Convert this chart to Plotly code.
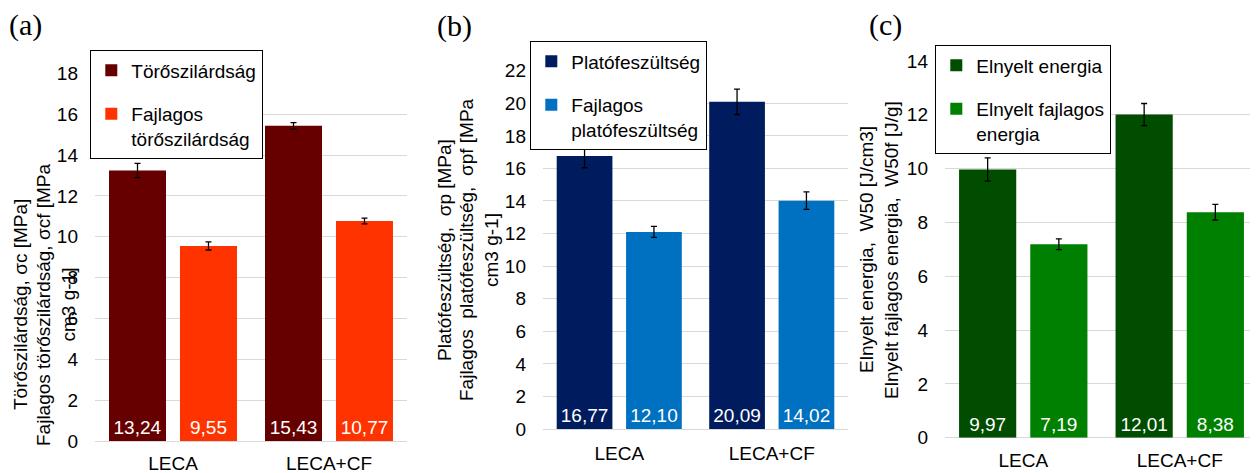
import plotly.graph_objects as go

categories = ["LECA", "LECA+CF"]

# Panel (a)
a_names = ["Törőszilárdság", "Fajlagos<br>törőszilárdság"]
a_main = [13.24, 15.43]
a_main_err = [0.35, 0.16]
a_spec = [9.55, 10.77]
a_spec_err = [0.20, 0.14]
a_colors = ["#660000", "#FF3300"]

# Panel (b)
b_names = ["Platófeszültség", "Fajlagos<br>platófeszültség"]
b_main = [16.77, 20.09]
b_main_err = [0.73, 0.78]
b_spec = [12.10, 14.02]
b_spec_err = [0.34, 0.54]
b_colors = ["#001B5E", "#0070C0"]

# Panel (c)
c_names = ["Elnyelt energia", "Elnyelt fajlagos<br>energia"]
c_main = [9.97, 12.01]
c_main_err = [0.43, 0.41]
c_spec = [7.19, 8.38]
c_spec_err = [0.20, 0.29]
c_colors = ["#004D00", "#008000"]

y_ranges = [[0, 18], [0, 22], [0, 14]]
y_title_lines = [
    ["Törőszilárdság, σc [MPa]", "Fajlagos törőszilárdság, σcf [MPa", "cm3 g-1]"],
    ["Platófeszültség,  σp [MPa]", "Fajlagos  platófeszültség,  σpf [MPa", "cm3 g-1]"],
    ["Elnyelt energia,  W50 [J/cm3]", "Elnyelt fajlagos energia,  W50f [J/g]"],
]
panel_labels = ["(a)", "(b)", "(c)"]

FONT = "Arial, Liberation Sans, sans-serif"
FS = 19
# page has an 8px body margin: figure sized to fit the 1258x473 window
OFF = 8
W, H = 1258 - OFF, 473 - OFF


def px(X):
    return (X - OFF) / W


def py(Y):
    return 1 - (Y - OFF) / H


def fmt(v):
    return f"{v:.2f}".replace(".", ",")


fig = go.Figure()

panels = [
    (a_names, a_main, a_main_err, a_spec, a_spec_err, a_colors),
    (b_names, b_main, b_main_err, b_spec, b_spec_err, b_colors),
    (c_names, c_main, c_main_err, c_spec, c_spec_err, c_colors),
]
legend_ids = ["legend", "legend2", "legend3"]

for i, (names, main, main_err, spec, spec_err, colors) in enumerate(panels):
    xa = "x" if i == 0 else f"x{i+1}"
    ya = "y" if i == 0 else f"y{i+1}"
    for j, (vals, errs) in enumerate([(main, main_err), (spec, spec_err)]):
        fig.add_trace(go.Bar(
            x=categories, y=vals, name=names[j],
            xaxis=xa, yaxis=ya,
            marker=dict(color=colors[j], line=dict(width=0)),
            error_y=dict(type="data", array=errs, color="black", thickness=1.3, width=3),
            text=[fmt(v) for v in vals],
            textposition="inside", insidetextanchor="start", textangle=0,
            textfont=dict(color="white", size=FS, family=FONT),
            legend=legend_ids[i], legendgroup=f"g{i}{j}",
            cliponaxis=False,
        ))

# plot areas in window pixels: (left, right, top, bottom)
areas = [(95, 407, 73.3, 441), (543, 848, 70.7, 429), (945, 1258, 61, 437.7)]
x_standoff = [9, 11, 9]

layout = dict(
    template="none",
    width=W, height=H, autosize=False,
    margin=dict(l=0, r=0, t=0, b=0, pad=0, autoexpand=False),
    paper_bgcolor="white", plot_bgcolor="white",
    barmode="group", bargap=0.09, bargroupgap=0.197,
    font=dict(family=FONT, size=FS, color="black"),
    showlegend=True,
)

for i in range(3):
    xk = "xaxis" if i == 0 else f"xaxis{i+1}"
    yk = "yaxis" if i == 0 else f"yaxis{i+1}"
    ya = "y" if i == 0 else f"y{i+1}"
    xa = "x" if i == 0 else f"x{i+1}"
    l, r, t, b = areas[i]
    layout[xk] = dict(domain=[px(l), min(px(r), 1.0)], anchor=ya, showgrid=False, showline=False,
                      automargin=False, ticks="", ticklabelstandoff=x_standoff[i],
                      tickfont=dict(size=FS, color="black"), zeroline=False)
    layout[yk] = dict(domain=[py(b), py(t)], anchor=xa, range=y_ranges[i], dtick=2,
                      automargin=False,
                      showgrid=True, gridcolor="#D9D9D9", gridwidth=1,
                      zeroline=True, zerolinecolor="#D9D9D9", zerolinewidth=1,
                      showline=False, ticks="", ticklabelstandoff=16,
                      tickfont=dict(size=FS, color="black"))

leg_common = dict(bgcolor="white", bordercolor="black", borderwidth=1.3,
                  font=dict(size=FS, family=FONT, color="black"),
                  xanchor="left", yanchor="top", valign="top",
                  tracegroupgap=16, itemwidth=30)
layout["legend"] = dict(x=px(90), y=py(50), **leg_common)
layout["legend2"] = dict(x=px(530), y=py(41), **leg_common)
layout["legend3"] = dict(x=px(935), y=py(45), **leg_common)

annotations = []
title_pos = [([20, 43, 67.5], 305), ([445, 467, 492], 250), ([867, 892], 250)]
label_pos = [(25, 25), (455, 26), (885, 25)]
for i in range(3):
    xs, ty = title_pos[i]
    for line, tx in zip(y_title_lines[i], xs):
        annotations.append(dict(text=line, xref="paper", yref="paper",
                                x=px(tx), y=py(ty), xanchor="center", yanchor="middle",
                                textangle=-90, showarrow=False,
                                font=dict(size=FS, family=FONT, color="black")))
    lx, ly = label_pos[i]
    annotations.append(dict(text=panel_labels[i], xref="paper", yref="paper",
                            x=px(lx), y=py(ly), xanchor="center", yanchor="middle",
                            showarrow=False,
                            font=dict(size=30, family="Liberation Serif, Times New Roman, serif",
                                      color="black")))
layout["annotations"] = annotations

fig.update_layout(**layout)
fig.write_html("out.html")
